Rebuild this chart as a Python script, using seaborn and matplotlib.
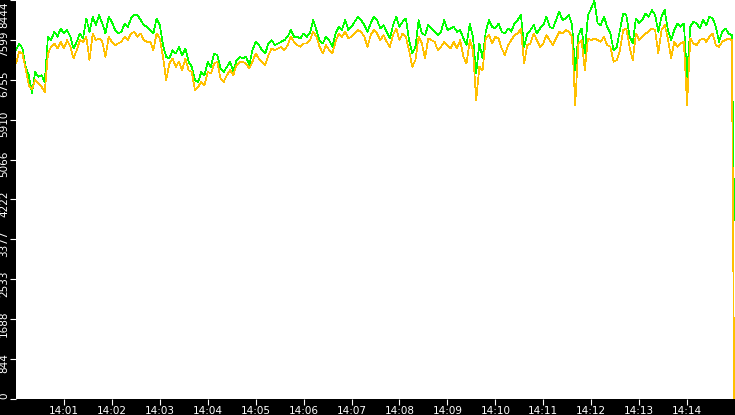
import numpy as np
import pandas as pd
import matplotlib
matplotlib.use("Agg")
import matplotlib.pyplot as plt
import matplotlib.dates as mdates
from matplotlib.transforms import ScaledTranslation
import seaborn as sns

# =============================================================================
# Data (one sample every 4 s, last sample at 14:14:59)
# =============================================================================
seconds = list(range(0, 900, 4)) + [899]

green_vals = [
    # 14:00:00 - 14:02:28
    7383, 7525, 7419, 7030, 6853, 6464, 6924, 6817, 6853, 6711,
    7666, 7595, 7772, 7666, 7843, 7737, 7808, 7666, 7419, 7560,
    7737, 7631, 8055, 7772, 8090, 7914, 8126, 7949, 7737, 8090,
    7984, 7808, 7737, 7772, 7949, 7878, 8055, 8126,
    # 14:02:32 - 14:04:56
    8126, 8020, 7914, 7878, 7808, 7737, 8055, 7914, 7489, 7242,
    7206, 7383, 7312, 7454, 7277, 7419, 7136, 7030, 6747, 6711,
    6924, 6853, 7136, 7030, 7312, 7277, 6994, 6924, 7030, 7136,
    6924, 7171, 7242, 7206, 7242, 7065, 7383,
    # 14:05:00 - 14:07:28
    7560, 7489, 7383, 7312, 7525, 7595, 7489, 7525, 7560, 7595,
    7666, 7808, 7666, 7666, 7631, 7737, 7666, 7737, 8020, 7808,
    7595, 7525, 7666, 7595, 7454, 7737, 7878, 7808, 8020, 7808,
    7878, 7984, 8090, 8020, 7914, 7772, 7949, 8090,
    # 14:07:32 - 14:09:56
    8020, 7843, 7914, 7772, 7631, 7914, 8090, 7878, 7984, 8055,
    7595, 7312, 7454, 8020, 7737, 7701, 7914, 7843, 7772, 7701,
    7772, 8020, 7808, 7843, 7878, 7772, 7808, 7631, 7489, 7949,
    7666, 6888, 7525, 7206, 7772, 8020, 7878,
    # 14:10:00 - 14:12:28
    7843, 7949, 7772, 7737, 7843, 7772, 7949, 8020, 8126, 7454,
    7737, 7808, 7914, 7737, 7843, 7914, 8090, 7878, 7843, 8020,
    8196, 8020, 8055, 8126, 7914, 6959, 7701, 7843, 7312, 8126,
    8267, 8430, 7949, 7914, 8090, 7878, 7737, 7383,
    # 14:12:32 - 14:14:59
    7454, 7808, 8161, 8126, 7666, 7525, 8055, 7949, 8020, 8161,
    8090, 8232, 8126, 7772, 8090, 8232, 7808, 7595, 7808, 7949,
    7878, 7949, 6817, 7878, 7984, 7949, 7843, 8020, 7914, 8090,
    8055, 7878, 7560, 7772, 7843, 7737, 7701, 3774,
]

orange_vals = [
    # 14:00:00 - 14:02:28
    7100, 7348, 7312, 6994, 6641, 6549, 6747, 6676, 6605, 6499,
    7312, 7454, 7525, 7419, 7560, 7419, 7595, 7454, 7206, 7383,
    7595, 7560, 7666, 7171, 7737, 7595, 7631, 7560, 7242, 7666,
    7560, 7489, 7525, 7560, 7666, 7595, 7737, 7772,
    # 14:02:32 - 14:04:56
    7666, 7737, 7595, 7560, 7560, 7383, 7737, 7631, 7242, 6747,
    7100, 7206, 7030, 7136, 6959, 7206, 6959, 6924, 6535, 6605,
    6711, 6641, 6924, 6888, 7100, 7136, 6782, 6711, 6853, 6959,
    6853, 7065, 7136, 7136, 7100, 6994, 7136,
    # 14:05:00 - 14:07:28
    7312, 7206, 7136, 7065, 7277, 7419, 7383, 7419, 7454, 7383,
    7489, 7666, 7560, 7489, 7454, 7525, 7525, 7595, 7772, 7666,
    7454, 7312, 7489, 7383, 7312, 7560, 7737, 7666, 7772, 7631,
    7666, 7737, 7808, 7772, 7666, 7454, 7701, 7808,
    # 14:07:32 - 14:09:56
    7737, 7595, 7701, 7560, 7454, 7701, 7843, 7595, 7737, 7666,
    7383, 7030, 7171, 7666, 7525, 7206, 7631, 7595, 7560, 7383,
    7454, 7560, 7489, 7419, 7560, 7419, 7595, 7242, 7100, 7595,
    7383, 6322, 7030, 6959, 7631, 7701, 7525,
    # 14:10:00 - 14:12:28
    7666, 7631, 7419, 7277, 7489, 7595, 7701, 7737, 7843, 7100,
    7489, 7525, 7737, 7595, 7454, 7525, 7701, 7595, 7489, 7631,
    7772, 7737, 7808, 7772, 7666, 6223, 7525, 7595, 6959, 7631,
    7595, 7631, 7595, 7560, 7666, 7489, 7454, 7136,
    # 14:12:32 - 14:14:59
    7171, 7383, 7808, 7843, 7454, 7171, 7737, 7595, 7666, 7737,
    7772, 7843, 7808, 7312, 7808, 7914, 7631, 7206, 7560, 7454,
    7525, 7560, 6223, 7631, 7525, 7489, 7595, 7631, 7560, 7666,
    7737, 7489, 7454, 7560, 7595, 7631, 7595, 0,
]

series_names = ["green", "orange"]
series_colors = ["#00ff00", "#ffc000"]
y_ticks = [0, 844, 1688, 2533, 3377, 4222, 5066, 5910, 6755, 7599, 8444]
x_tick_minutes = list(range(1, 15))  # 14:01 ... 14:14

start = pd.Timestamp("2024-01-01 14:00:00")
times = start + pd.to_timedelta(seconds, unit="s")
x_ticks = [start + pd.Timedelta(minutes=m) for m in x_tick_minutes]

df = pd.concat([
    pd.DataFrame({"time": times, "value": green_vals, "series": "green"}),
    pd.DataFrame({"time": times, "value": orange_vals, "series": "orange"}),
])

# =============================================================================
# Plot
# =============================================================================
sns.set_style("white")
plt.rcParams["font.family"] = ["DejaVu Sans"]

fig = plt.figure(figsize=(7.35, 4.15), dpi=100, facecolor="black")
ax = fig.add_axes([16 / 735, 16 / 415, 719 / 735, 399 / 415])
ax.set_facecolor("white")

sns.lineplot(
    data=df, x="time", y="value", hue="series",
    hue_order=series_names, palette=series_colors,
    linewidth=0.5, legend=False, ax=ax, estimator=None,
)
for line in ax.get_lines():
    line.set_antialiased(False)

ax.set_xlim(start, start + pd.Timedelta(seconds=900))
ax.set_ylim(0, 8444)
ax.set_xticks(x_ticks)
ax.xaxis.set_major_formatter(mdates.DateFormatter("%H:%M"))
ax.set_yticks(y_ticks)
ax.set_yticklabels([str(v) for v in y_ticks], rotation=90, va="center")

ax.tick_params(axis="both", colors="white", labelcolor="white", labelsize=7.5,
               length=4, width=0.8, direction="out", pad=1,
               left=True, bottom=True)

# nudge the rotated y labels a little downwards, keep the end ones inside
ylabels = ax.get_yticklabels()
for lab in ylabels[1:-1]:
    lab.set_transform(lab.get_transform() + ScaledTranslation(0, -3 / 72, fig.dpi_scale_trans))
ylabels[0].set_va("bottom")
ylabels[-1].set_va("top")
ylabels[-1].set_transform(ylabels[-1].get_transform() + ScaledTranslation(0, -1 / 72, fig.dpi_scale_trans))

ax.set_xlabel("")
ax.set_ylabel("")
for spine in ax.spines.values():
    spine.set_visible(False)

fig.savefig("out.png", dpi=100, facecolor="black")
